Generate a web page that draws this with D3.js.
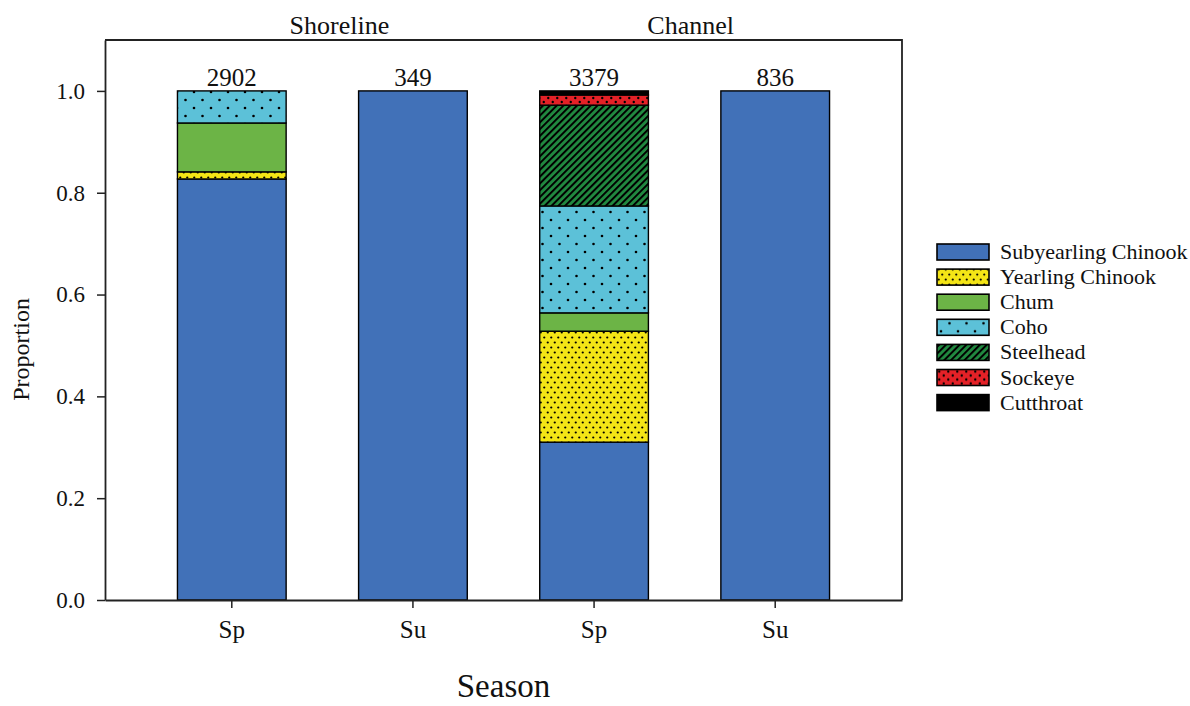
<!DOCTYPE html>
<html>
<head>
<meta charset="utf-8">
<script src="https://cdn.jsdelivr.net/npm/d3@7"></script>
<style>
  body { margin: 0; background: #fff; }
  text { font-family: "Liberation Serif", "DejaVu Serif", serif; fill: #111; }
</style>
</head>
<body>
<svg id="chart"></svg>
<script>
// values (proportion of catch per site / season)
var sites = ["Shoreline", "Shoreline", "Channel", "Channel"];
var seasons = ["Sp", "Su", "Sp", "Su"];
var sampleSizes = [2902, 349, 3379, 836];

var species = ["Subyearling Chinook", "Yearling Chinook", "Chum", "Coho", "Steelhead", "Sockeye", "Cutthroat"];
var subyearling = [0.827, 1.0, 0.310, 1.0];
var yearling = [0.014, 0, 0.218, 0];
var chum = [0.096, 0, 0.036, 0];
var coho = [0.063, 0, 0.210, 0];
var steelhead = [0, 0, 0.198, 0];
var sockeye = [0, 0, 0.020, 0];
var cutthroat = [0, 0, 0.008, 0];

var yTicks = [0, 0.2, 0.4, 0.6, 0.8, 1.0];

var seriesValues = [subyearling, yearling, chum, coho, steelhead, sockeye, cutthroat];

// fills: plain colour or pattern id
var fills = ["#4171b8", "url(#p-yearling)", "#6cb446", "url(#p-coho)", "url(#p-steel)", "url(#p-sockeye)", "#000"];

var W = 1190, H = 706;
var margin = { top: 40, right: 288, bottom: 106, left: 105 };
var width = W - margin.left - margin.right,
  height = H - margin.top - margin.bottom;

var svg = d3.select("#chart").attr("width", W).attr("height", H);

// patterns
var defs = svg.append("defs");

function dotPattern(id, bg, w, h, r, dots) {
  var p = defs.append("pattern")
    .attr("id", id)
    .attr("patternUnits", "userSpaceOnUse")
    .attr("width", w)
    .attr("height", h);
  p.append("rect").attr("width", w).attr("height", h).attr("fill", bg);
  dots.forEach(function(d) {
    p.append("circle").attr("cx", d[0]).attr("cy", d[1]).attr("r", r).attr("fill", "#000");
  });
}
dotPattern("p-yearling", "#f4e516", 7, 10, 1.1, [[1.75, 2.5], [5.25, 7.5]]);
dotPattern("p-coho", "#5cc1d8", 17, 16, 1.3, [[4, 4], [12.5, 12]]);
dotPattern("p-sockeye", "#e42127", 9, 8, 1.2, [[2.25, 2], [6.75, 6]]);

var hatch = defs.append("pattern")
  .attr("id", "p-steel")
  .attr("patternUnits", "userSpaceOnUse")
  .attr("width", 4.8)
  .attr("height", 4.8)
  .attr("patternTransform", "rotate(45)");
hatch.append("rect").attr("width", 4.8).attr("height", 4.8).attr("fill", "#218a40");
hatch.append("rect").attr("x", 0).attr("width", 2).attr("height", 4.8).attr("fill", "#000");

// table for the stack
var ids = seasons.map(function(s, i) { return sites[i] + "-" + s; });
var table = ids.map(function(id, i) {
  var row = { id: id, n: sampleSizes[i] };
  species.forEach(function(sp, j) { row[sp] = seriesValues[j][i]; });
  return row;
});
var stacked = d3.stack().keys(species)(table);

var xScale = d3.scaleBand().domain(ids).range([0, width]).padding(0.4),
  yScale = d3.scaleLinear().domain([0, 1.1]).range([height, 0]);

var g = svg.append("g")
  .attr("transform", "translate(" + margin.left + "," + margin.top + ")");

// bars
g.selectAll(".layer")
  .data(stacked)
  .enter()
  .append("g")
  .attr("class", "layer")
  .attr("fill", function(d, i) { return fills[i]; })
  .selectAll("rect")
  .data(function(d) { return d.filter(function(v) { return v[1] - v[0] > 0; }); })
  .enter()
  .append("rect")
  .attr("x", function(d) { return xScale(d.data.id); })
  .attr("y", function(d) { return yScale(d[1]); })
  .attr("width", xScale.bandwidth())
  .attr("height", function(d) { return yScale(d[0]) - yScale(d[1]); })
  .attr("stroke", "#000")
  .attr("stroke-width", 1.4);

// frame (top and right)
g.append("path")
  .attr("d", "M0,0H" + width + "V" + height)
  .attr("fill", "none")
  .attr("stroke", "#222")
  .attr("stroke-width", 1.8);

// x axis
var xAxis = g.append("g")
  .attr("transform", "translate(0," + height + ")")
  .call(d3.axisBottom(xScale)
    .tickSize(8)
    .tickSizeOuter(0)
    .tickPadding(12)
    .tickFormat(function(d, i) { return seasons[i]; }));
xAxis.select(".domain").attr("stroke", "#222").attr("stroke-width", 1.8);
xAxis.selectAll(".tick line").attr("stroke", "#222").attr("stroke-width", 1.5);
xAxis.selectAll(".tick text")
  .attr("font-size", "25px")
  .attr("font-family", "Liberation Serif")
  .attr("fill", "#111");

// y axis
var yAxis = g.append("g")
  .call(d3.axisLeft(yScale)
    .tickValues(yTicks)
    .tickSize(8)
    .tickSizeOuter(0)
    .tickPadding(12)
    .tickFormat(d3.format(".1f")));
yAxis.select(".domain").attr("stroke", "#222").attr("stroke-width", 1.8);
yAxis.selectAll(".tick line").attr("stroke", "#222").attr("stroke-width", 1.5);
yAxis.selectAll(".tick text")
  .attr("font-size", "23px")
  .attr("font-family", "Liberation Serif")
  .attr("fill", "#111");

// sample sizes above bars
g.selectAll("text.count")
  .data(table)
  .enter()
  .append("text")
  .attr("class", "count")
  .attr("text-anchor", "middle")
  .attr("x", function(d) { return xScale(d.id) + xScale.bandwidth() / 2; })
  .attr("y", function(d) { return yScale(1) - 5; })
  .attr("font-size", "25px")
  .text(function(d) { return d.n; });

// site labels above the frame
var siteNames = ["Shoreline", "Channel"];
var siteShift = [17, 6];
svg.selectAll("text.site")
  .data(siteNames)
  .enter()
  .append("text")
  .attr("class", "site")
  .attr("text-anchor", "middle")
  .attr("x", function(d, i) {
    var a = ids[i * 2], b = ids[i * 2 + 1];
    return margin.left + (xScale(a) + xScale(b) + xScale.bandwidth()) / 2 + siteShift[i];
  })
  .attr("y", 34)
  .attr("font-size", "26px")
  .text(function(d) { return d; });

// axis titles
svg.append("text")
  .attr("text-anchor", "middle")
  .attr("x", margin.left + width / 2)
  .attr("y", 697)
  .attr("font-size", "33px")
  .text("Season");

svg.append("text")
  .attr("text-anchor", "middle")
  .attr("transform", "translate(29," + (margin.top + yScale(0.5) + 4) + ") rotate(-90)")
  .attr("font-size", "24px")
  .text("Proportion");

// legend
var legend = svg.append("g").attr("transform", "translate(937,252)");
var item = legend.selectAll("g")
  .data(species)
  .enter()
  .append("g")
  .attr("transform", function(d, i) { return "translate(0," + i * 25.1 + ")"; });
item.append("rect")
  .attr("x", 0)
  .attr("y", -8)
  .attr("width", 52)
  .attr("height", 16)
  .attr("fill", function(d, i) { return fills[i]; })
  .attr("stroke", "#000")
  .attr("stroke-width", 1.6);
item.append("text")
  .attr("x", 63)
  .attr("y", 7)
  .attr("font-size", "22px")
  .text(function(d) { return d; });
</script>
</body>
</html>
